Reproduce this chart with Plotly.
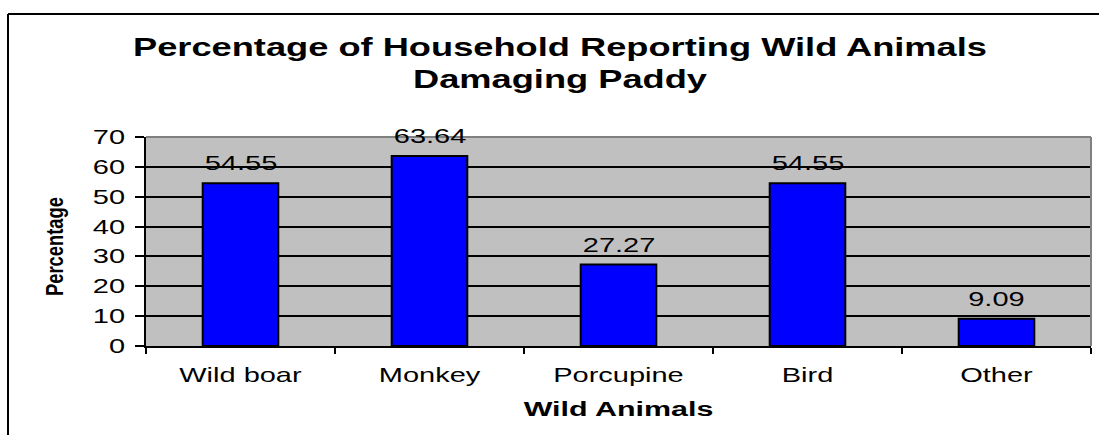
import plotly.graph_objects as go

# Survey results: share of households reporting each animal damaging paddy
animals = ["Wild boar", "Monkey", "Porcupine", "Bird", "Other"]
percent = [54.55, 63.64, 27.27, 54.55, 9.09]
y_ticks = [0, 10, 20, 30, 40, 50, 60, 70]

chart_title = "Percentage of Household Reporting Wild Animals<br>Damaging Paddy"
x_title = "Wild Animals"
y_title = "Percentage"

# Canvas and plot-area geometry (pixels)
W, H = 1099, 435
ML, MR, MT, MB = 146, 8, 137, 89
PW, PH = W - ML - MR, H - MT - MB


def px_x(px):
    return (px - ML) / PW


def px_y(py):
    return (H - MB - py) / PH


BASE = "Liberation Sans, Arial, sans-serif"

fig = go.Figure(
    go.Bar(
        x=animals,
        y=percent,
        width=0.4,
        marker=dict(color="#0000FF", line=dict(color="black", width=2)),
        hoverinfo="skip",
    )
)

# value labels above each bar
for a, v in zip(animals, percent):
    fig.add_annotation(
        x=a, y=v, text=f"{v:.2f}", showarrow=False,
        xanchor="center", yanchor="bottom", yshift=7,
        font=dict(family=BASE, size=20, color="black"),
    )

# outer chart frame (top and left edges)
frame = dict(color="black", width=2)
fig.add_shape(type="line", xref="paper", yref="paper",
              x0=px_x(8), y0=px_y(14), x1=px_x(1102), y1=px_y(14), line=frame)
fig.add_shape(type="line", xref="paper", yref="paper",
              x0=px_x(8), y0=px_y(14), x1=px_x(8), y1=px_y(440), line=frame)

# grey plot-area border on the top and right
border = dict(color="#808080", width=2)
fig.add_shape(type="line", xref="paper", yref="paper", layer="above",
              x0=0, y0=1, x1=1, y1=1, line=border)
fig.add_shape(type="line", xref="paper", yref="paper", layer="above",
              x0=1, y0=0, x1=1, y1=1, line=border)

fig.update_layout(
    width=W, height=H,
    margin=dict(l=ML, r=MR, t=MT, b=MB, pad=0),
    paper_bgcolor="white",
    plot_bgcolor="#C0C0C0",
    showlegend=False,
    font=dict(family=BASE, size=20, color="black"),
    title=dict(
        text=chart_title,
        font=dict(family=BASE, size=25, color="black", weight="bold"),
        xref="container", x=560 / W, xanchor="center",
        yref="container", y=1 - 56 / H, yanchor="top",
    ),
)

fig.update_xaxes(
    type="category",
    tickson="boundaries",
    ticks="outside", ticklen=6, tickwidth=2, tickcolor="black",
    showline=True, linecolor="black", linewidth=2,
    showgrid=False,
    tickfont=dict(family=BASE, size=20, color="black"),
    ticklabelstandoff=10,
    title=dict(text=x_title, standoff=16,
               font=dict(family=BASE, size=21, color="black", weight="bold")),
)

fig.update_yaxes(
    range=[0, 70],
    tickvals=y_ticks,
    ticks="outside", ticklen=9, tickwidth=2, tickcolor="black",
    showline=True, linecolor="black", linewidth=2,
    showgrid=True, gridcolor="black", gridwidth=1.5,
    zeroline=False,
    tickfont=dict(family=BASE, size=20, color="black"),
    ticklabelstandoff=6,
    title=dict(text=y_title, standoff=33,
               font=dict(family=BASE, size=23, color="black", weight="bold")),
)

# Horizontal labels use a widened face; the rotated axis title a condensed one
stretch_js = """
var gd = document.getElementById('{plot_id}');
document.body.style.margin = '0';
gd.querySelectorAll('svg text').forEach(function (t) {
  var b = t.getBBox();
  if (!b.width) return;
  var isY = t.classList.contains('ytitle');
  var s = isY ? 0.8 : 1.45;
  var a = t.getAttribute('text-anchor') || 'start';
  var cx = a === 'end' ? b.x + b.width : (a === 'middle' ? b.x + b.width / 2 : b.x);
  var shift = isY ? -5 : 0;
  var old = t.getAttribute('transform') || '';
  t.setAttribute('transform', old + ' translate(' + (cx + shift) + ',0) scale(' + s + ',1) translate(' + (-cx) + ',0)');
});
"""

fig.write_html("out.html", config={"displayModeBar": False}, post_script=stretch_js)
